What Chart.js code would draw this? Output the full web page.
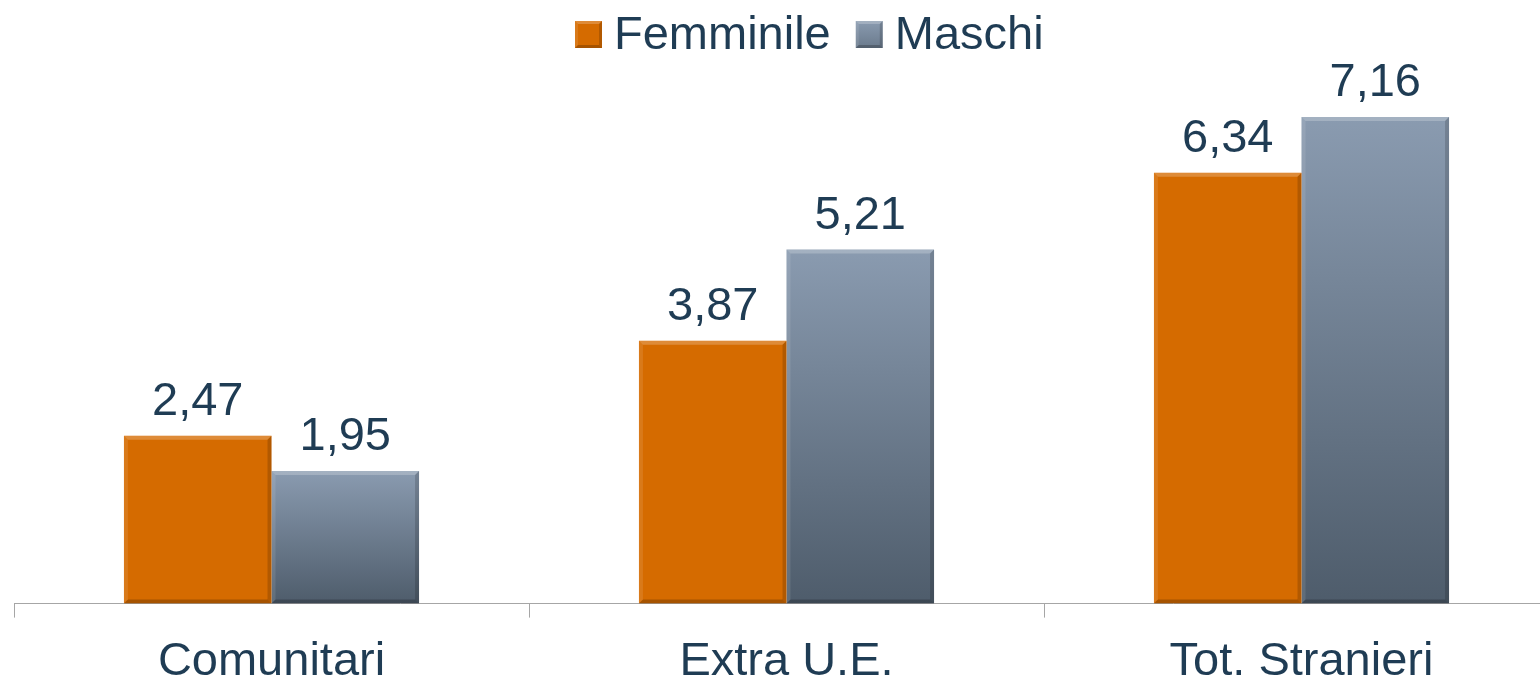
<!DOCTYPE html>
<html>
<head>
<meta charset="utf-8">
<script src="https://cdn.jsdelivr.net/npm/chart.js@4/dist/chart.umd.min.js"></script>
<style>
html,body{margin:0;padding:0;background:#fff;overflow:hidden;}
#wrap{width:1560px;height:706px;position:relative;}
</style>
</head>
<body>
<div id="wrap"><canvas id="c"></canvas></div>
<script>
const categories = ['Comunitari', 'Extra U.E.', 'Tot. Stranieri'];
const femminile = [2.47, 3.87, 6.34];
const maschi = [1.95, 5.21, 7.16];
const seriesNames = ['Femminile', 'Maschi'];

const TEXT = '#1f3c54';
const FONT = '"Liberation Sans", Arial, sans-serif';
const ORANGE = '#d56b00';
const GREY_TOP = '#8a9bb0';
const GREY_BOT = '#4e5c6b';

function greyGrad(ctx) {
  const chart = ctx.chart;
  const y = chart.scales && chart.scales.y;
  if (!chart.chartArea || !y || ctx.raw == null) return '#7a8ca0';
  const top = y.getPixelForValue(ctx.raw);
  const bot = y.getPixelForValue(0);
  const g = chart.ctx.createLinearGradient(0, top, 0, bot);
  g.addColorStop(0, GREY_TOP);
  g.addColorStop(1, GREY_BOT);
  return g;
}

function drawBevel(c, l, t, r, b, e) {
  c.save();
  c.fillStyle = 'rgba(255,255,255,0.22)';
  c.beginPath(); c.moveTo(l, t); c.lineTo(r, t); c.lineTo(r - e, t + e); c.lineTo(l + e, t + e); c.closePath(); c.fill();
  c.fillStyle = 'rgba(255,255,255,0.10)';
  c.beginPath(); c.moveTo(l, t); c.lineTo(l + e, t + e); c.lineTo(l + e, b - e); c.lineTo(l, b); c.closePath(); c.fill();
  c.fillStyle = 'rgba(0,0,0,0.16)';
  c.beginPath(); c.moveTo(r, t); c.lineTo(r, b); c.lineTo(r - e, b - e); c.lineTo(r - e, t + e); c.closePath(); c.fill();
  c.fillStyle = 'rgba(0,0,0,0.22)';
  c.beginPath(); c.moveTo(l, b); c.lineTo(r, b); c.lineTo(r - e, b - e); c.lineTo(l + e, b - e); c.closePath(); c.fill();
  c.restore();
}

const bevel = {
  id: 'bevel',
  afterDatasetsDraw(chart) {
    const c = chart.ctx;
    chart.data.datasets.forEach((ds, di) => {
      chart.getDatasetMeta(di).data.forEach(bar => {
        const p = bar.getProps(['x', 'y', 'base', 'width'], true);
        drawBevel(c, p.x - p.width / 2, p.y, p.x + p.width / 2, p.base, 4);
      });
    });
  }
};

const valueLabels = {
  id: 'valueLabels',
  afterDatasetsDraw(chart) {
    const c = chart.ctx;
    c.save();
    c.font = '47px ' + FONT;
    c.fillStyle = TEXT;
    c.textAlign = 'center';
    c.textBaseline = 'alphabetic';
    chart.data.datasets.forEach((ds, di) => {
      chart.getDatasetMeta(di).data.forEach((bar, i) => {
        const txt = ds.data[i].toFixed(2).replace('.', ',');
        c.fillText(txt, bar.x, bar.y - 21);
      });
    });
    c.restore();
  }
};

const customLegend = {
  id: 'customLegend',
  afterDraw(chart) {
    const c = chart.ctx;
    const colors = [ORANGE, null];
    const box = 27, gapText = 12, gapItem = 25;
    c.save();
    c.font = '47px ' + FONT;
    c.textBaseline = 'alphabetic';
    c.textAlign = 'left';
    let x = 575;
    const boxTop = 21, baseline = 49;
    chart.data.datasets.forEach((ds, i) => {
      if (i === 0) {
        c.fillStyle = ORANGE;
      } else {
        const g = c.createLinearGradient(0, boxTop, 0, boxTop + box);
        g.addColorStop(0, GREY_TOP);
        g.addColorStop(1, '#6a7a8c');
        c.fillStyle = g;
      }
      c.fillRect(x, boxTop, box, box);
      drawBevel(c, x, boxTop, x + box, boxTop + box, 3);
      x += box + gapText;
      c.fillStyle = TEXT;
      c.fillText(ds.label, x, baseline);
      x += c.measureText(ds.label).width + gapItem;
    });
    c.restore();
  }
};

new Chart(document.getElementById('c'), {
  type: 'bar',
  data: {
    labels: categories,
    datasets: [
      { label: seriesNames[0], data: femminile, backgroundColor: ORANGE },
      { label: seriesNames[1], data: maschi, backgroundColor: greyGrad }
    ]
  },
  options: {
    responsive: true,
    maintainAspectRatio: false,
    animation: false,
    layout: { padding: { left: 14, right: 1, top: 60, bottom: 0 } },
    datasets: { bar: { categoryPercentage: 0.573, barPercentage: 1.0 } },
    plugins: {
      tooltip: { enabled: false },
      legend: { display: false }
    },
    scales: {
      x: {
        offset: true,
        grid: { display: true, offset: true, drawOnChartArea: false, drawTicks: true, tickLength: 14, color: '#a6a6a6', lineWidth: 1 },
        border: { display: true, color: '#a6a6a6', width: 1 },
        ticks: { font: { family: FONT, size: 47 }, color: TEXT, padding: 16 }
      },
      y: {
        display: false,
        min: 0,
        max: 8
      }
    }
  },
  plugins: [bevel, valueLabels, customLegend]
});
</script>
</body>
</html>
